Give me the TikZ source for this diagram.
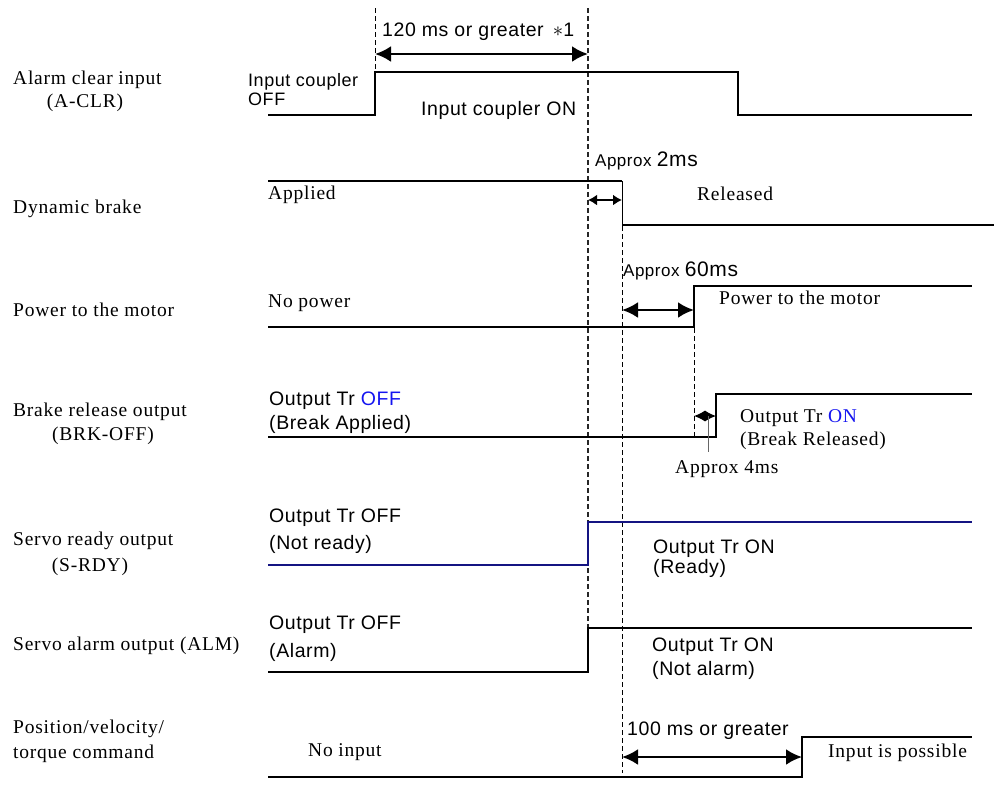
\documentclass[tikz,border=0pt]{standalone}
\usepackage{fontspec}
\setmainfont{Liberation Serif}[LetterSpace=4]
\setsansfont{Liberation Sans}[LetterSpace=3]
\usetikzlibrary{arrows.meta}
\definecolor{navyline}{RGB}{20,20,130}
\definecolor{txtblue}{RGB}{20,20,240}
\begin{document}
\begin{tikzpicture}[x=1pt,y=-1pt,
  sig/.style={line width=2.2pt, line join=miter},
  edgethin/.style={line width=1pt},
  vdash/.style={line width=0.9pt, dash pattern=on 5pt off 3pt},
  vdashmain/.style={line width=1.4pt, dash pattern=on 5pt off 3pt, black!85},
  dim/.style={line width=2.6pt, {Latex[length=16pt,width=16pt]}-{Latex[length=16pt,width=16pt]}},
  dimsmall/.style={line width=2.4pt, {Latex[length=9pt,width=11pt]}-{Latex[length=9pt,width=11pt]}},
  dimtiny/.style={line width=1.2pt, {Latex[length=11pt,width=11pt]}-{Latex[length=11pt,width=11pt]}},
  lbl/.style={font=\fontsize{19.5}{22}\selectfont, anchor=base west, inner sep=0pt},
  clbl/.style={font=\fontsize{19.5}{22}\selectfont, anchor=base, inner sep=0pt},
  slbl/.style={font=\sffamily\fontsize{19.5}{22}\selectfont, anchor=base west, inner sep=0pt}]
\useasboundingbox (0,0) rectangle (994,785);

% ---------- left-hand signal names ----------
\node[lbl]  (n1a) at (13,84)  {Alarm clear input};
\node[clbl] (n1b) at (85,107) {(A-CLR)};
\node[lbl]  (n2)  at (13,213) {Dynamic brake};
\node[lbl]  (n3)  at (13,316) {Power to the motor};
\node[lbl]  (n4a) at (13,416) {Brake release output};
\node[clbl] (n4b) at (103,440) {(BRK-OFF)};
\node[lbl]  (n5a) at (13,545) {Servo ready output};
\node[clbl] (n5b) at (90,571) {(S-RDY)};
\node[lbl]  (n6)  at (13,650) {Servo alarm output (ALM)};
\node[lbl]  (n7a) at (13,733) {Position/velocity/};
\node[lbl]  (n7b) at (13,758) {torque command};

% ---------- dashed timing references ----------
\draw[vdash] (375,8) -- (375,72);
\draw[vdashmain] (588,8) -- (588,628);
\draw[vdash] (622,226) -- (622,773);
\draw[vdash] (694,328) -- (694,437);

% ---------- waveforms ----------
% Alarm clear input
\draw[sig] (268,115) -- (375,115) -- (375,72) -- (738,72) -- (738,115) -- (972,115);
% Dynamic brake
\draw[sig] (268,181) -- (622,181);
\draw[edgethin] (622,181) -- (622,225);
\draw[sig] (622,225) -- (994,225);
% Power to the motor
\draw[sig] (268,327) -- (694,327) -- (694,286) -- (972,286);
% Brake release output
\draw[sig] (268,437) -- (716,437) -- (716,394) -- (972,394);
% Servo ready output
\draw[sig, navyline] (268,565) -- (588,565) -- (588,522) -- (972,522);
% Servo alarm output
\draw[sig] (268,672) -- (588,672) -- (588,628) -- (972,628);
% Position / velocity / torque command
\draw[sig] (268,777) -- (802,777) -- (802,737) -- (972,737);

% ---------- dimension arrows ----------
\coordinate (a1l) at (375,54); \coordinate (a1r) at (588,54);
\draw[dim] (a1l) -- (a1r);
\coordinate (a2l) at (588,200); \coordinate (a2r) at (622,200);
\draw[dimsmall] (a2l) -- (a2r);
\coordinate (a3l) at (622,310); \coordinate (a3r) at (694,310);
\draw[dim] (a3l) -- (a3r);
\coordinate (a4l) at (694,416); \coordinate (a4r) at (716,416);
\draw[dimtiny] (a4l) -- (a4r);
\coordinate (a4m) at (708,416); \coordinate (a4b) at (708,452);
\draw[line width=0.8pt, black!60] (a4m) -- (a4b);
\coordinate (a5l) at (622,757); \coordinate (a5r) at (802,757);
\draw[dim] (a5l) -- (a5r);

% ---------- labels on the waveforms ----------
\node[slbl] (t120) at (382,36) {120 ms or greater \,$\ast$1};
\node[slbl, font=\sffamily\fontsize{18}{20}\selectfont] (ticoff1) at (248,86) {Input coupler};
\node[slbl, font=\sffamily\fontsize{18}{20}\selectfont] (ticoff2) at (248,105) {OFF};
\node[slbl] (ticon) at (421,115) {Input coupler ON};

\node[slbl] (t2ms) at (595,166) {\fontsize{17}{20}\selectfont Approx \fontsize{21}{24}\selectfont 2ms};
\node[lbl] (tapp) at (268,199) {Applied};
\node[lbl] (trel) at (697,200) {Released};

\node[slbl] (t60ms) at (623,276) {\fontsize{17}{20}\selectfont Approx \fontsize{21}{24}\selectfont 60ms};
\node[lbl] (tnop) at (268,307) {No power};
\node[lbl] (tpow) at (719,304) {Power to the motor};

\node[slbl] (tbo1) at (269,405) {Output Tr \textcolor{txtblue}{OFF}};
\node[slbl] (tbo2) at (269,429) {(Break Applied)};
\node[lbl] (tbr1) at (740,422) {Output Tr \textcolor{txtblue}{ON}};
\node[lbl] (tbr2) at (740,445) {(Break Released)};
\node[lbl] (t4ms) at (675,473) {Approx 4ms};

\node[slbl] (tso1) at (269,522) {Output Tr OFF};
\node[slbl] (tso2) at (269,549) {(Not ready)};
\node[slbl] (tsr1) at (653,553) {Output Tr ON};
\node[slbl] (tsr2) at (653,573) {(Ready)};

\node[slbl] (tao1) at (269,629) {Output Tr OFF};
\node[slbl] (tao2) at (269,657) {(Alarm)};
\node[slbl] (tan1) at (652,651) {Output Tr ON};
\node[slbl] (tan2) at (652,675) {(Not alarm)};

\node[slbl] (t100) at (627,735) {100 ms or greater};
\node[lbl] (tnoi) at (308,756) {No input};
\node[lbl] (tinp) at (828,757) {Input is possible};
\end{tikzpicture}
\end{document}
